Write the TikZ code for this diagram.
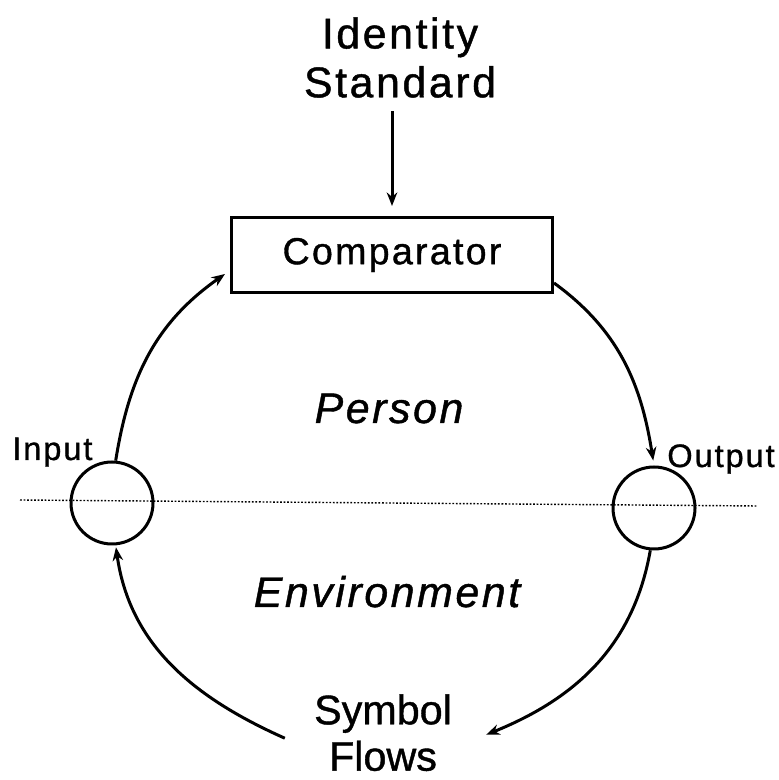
\documentclass[tikz,border=0pt]{standalone}
\usepackage{fontspec}
\setmainfont{Liberation Sans}[FakeBold=1]
\newfontfamily\spacedfont[LetterSpace=6, FakeBold=1]{Liberation Sans}
\usepackage{tikz}
\usetikzlibrary{arrows.meta, positioning, calc}

\begin{document}
\begin{tikzpicture}[
  bigtext/.style={
    inner sep=0pt, align=center,
    font=\spacedfont\fontsize{24.4}{27.8}\selectfont
  },
  region/.style={
    inner sep=0pt,
    font=\spacedfont\itshape\fontsize{24.4}{27.8}\selectfont
  },
  smalltext/.style={
    inner sep=0pt, font=\spacedfont\fontsize{18.5}{21}\selectfont
  },
  comparator/.style={
    draw, line width=0.06cm, inner sep=0pt,
    minimum width=6.42cm, minimum height=1.5cm,
    font=\spacedfont\fontsize{21.4}{24}\selectfont
  },
  port/.style={draw, circle, line width=0.06cm, inner sep=0pt, minimum size=1.64cm},
  flow/.style={line width=0.06cm, -{Stealth[length=0.27cm, width=0.21cm]}},
  boundary/.style={line width=0.8pt, dash pattern=on 1pt off 1pt}
]
\useasboundingbox (0,0) rectangle (15.56,15.6);

% Standard and comparator
\node[bigtext, anchor=north] (std) at (8.0,15.26) {Identity\\Standard};
\node[comparator] (cmp) at (7.84,10.5) {Comparator};

% Person / environment boundary
\coordinate (west) at (0.4,5.6);
\coordinate (east) at (15.14,5.48);
\draw[boundary] (west) -- (east);

\node[region, anchor=base] (person) at (7.78,7.14) {Person};
\node[region, anchor=base] (env) at (7.74,3.46) {Environment};

% Input and output circles
\node[port] (inp) at (2.24,5.54) {};
\node[port] (outp) at (13.08,5.44) {};
\node[smalltext, anchor=base west] (inlbl) at (0.24,6.4) {Input};
\node[smalltext, anchor=base west] (outlbl) at (13.34,6.26) {Output};

\node[inner sep=0pt, align=center, anchor=north,
      font=\fontsize{23.5}{26.4}\selectfont] (sym) at (7.66,1.72) {Symbol\\Flows};

% Loop
\draw[flow, shorten <=0.26cm, shorten >=0.2cm] (cmp.north |- std.south) -- (cmp.north);
\draw[flow] (inp.85) to[out=81, in=215] ([shift={(-0.1,0.4)}]cmp.south west);
\draw[flow, shorten >=0.1cm] ([yshift=0.22cm]cmp.south east) to[out=-36, in=99] (outp.north);
\draw[flow] (outp.265) to[out=-100, in=22] ([shift={(0.68,-0.04)}]sym.east);
\draw[flow, shorten >=0.04cm] ([shift={(-0.58,-0.11)}]sym.west) to[out=156, in=278] (inp.275);

\end{tikzpicture}
\end{document}
